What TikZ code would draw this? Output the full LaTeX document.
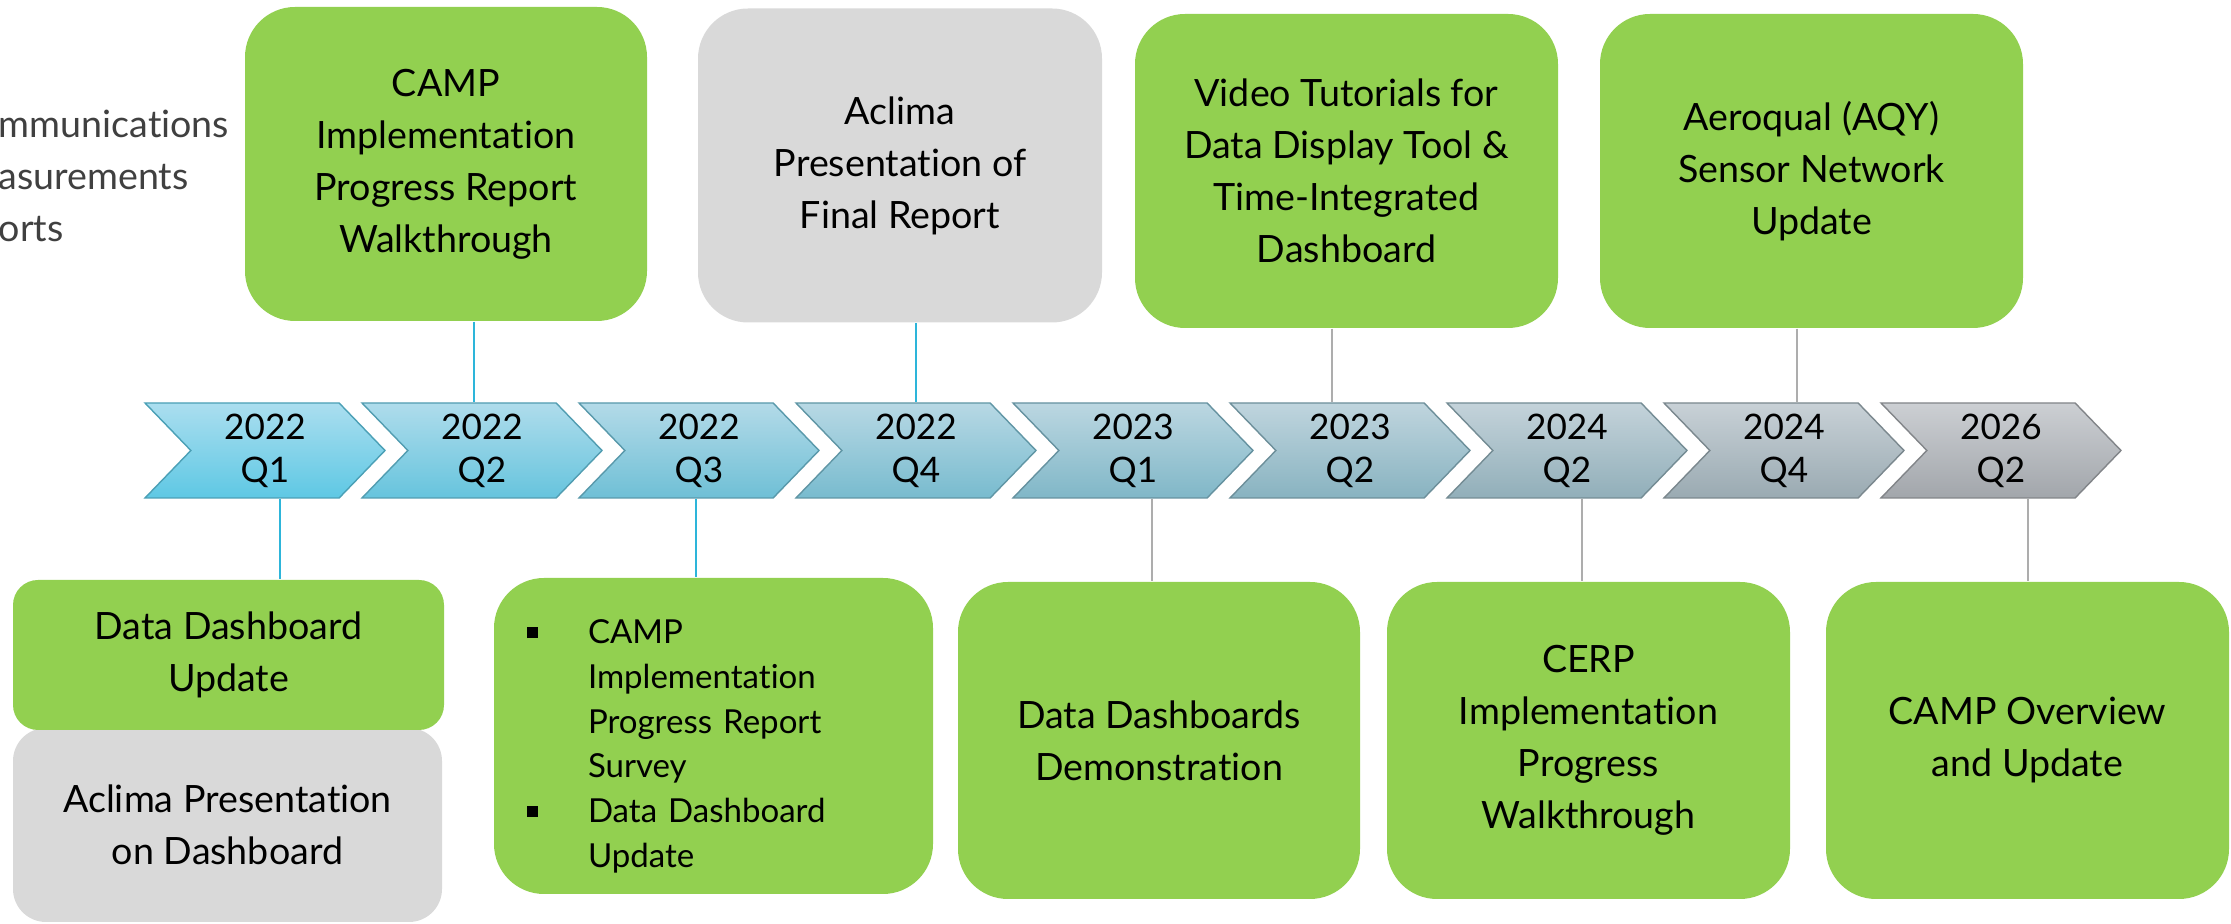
\documentclass[tikz,border=0pt]{standalone}
\usepackage{fontspec}
\setmainfont{Lato}[Ligatures=NoCommon]
\usepackage{enumitem}
\usetikzlibrary{positioning,shapes.symbols}

\definecolor{boxgreen}{HTML}{92D050}
\definecolor{boxgrey}{HTML}{D9D9D9}
\definecolor{linkcyan}{HTML}{2DB5DA}
\definecolor{linkgrey}{HTML}{ADADAD}
\definecolor{sidegrey}{HTML}{404040}
\definecolor{chevtopA}{HTML}{ABDEEF}
\definecolor{chevtopB}{HTML}{CCCFD3}
\definecolor{chevbotA}{HTML}{5EC8E4}
\definecolor{chevbotB}{HTML}{A2A6AB}

\newcommand{\boxfont}{\fontsize{10.7}{14.8}\selectfont}
\newcommand{\chevfont}{\fontsize{10}{12.2}\selectfont}
\newcommand{\listfont}{\fontsize{9.4}{12.7}\selectfont}
\newcommand{\sqbullet}{\rule[0.35ex]{1.1mm}{1.1mm}}

\begin{document}
\begin{tikzpicture}[x=0.1mm, y=-0.1mm, node distance=21.7mm,
    evbox/.style={rounded corners=5mm, inner sep=0pt, align=center, font=\boxfont, minimum height=31.4mm},
    greenbox/.style={evbox, fill=boxgreen},
    greybox/.style={evbox, fill=boxgrey},
    chev/.style={signal, signal from=west, signal to=east, signal pointer angle=92,
        minimum width=24mm, minimum height=9.5mm, inner sep=0pt, align=center, font=\chevfont,
        top color=chevtopB!#1!chevtopA, bottom color=chevbotB!#1!chevbotA,
        draw=chevbotB!#1!chevbotA!80!black, line width=0.4pt},
    cyanlink/.style={draw=linkcyan, line width=0.7pt},
    greylink/.style={draw=linkgrey, line width=0.7pt}]
    \useasboundingbox (0,0) rectangle (2231,924);

    % cut-off text on the left
    \node[anchor=west, align=left, inner sep=0pt, text=sidegrey, font=\boxfont] (side) at (-2,176) {mmunications\\asurements\\orts};

    % timeline
    \node[chev=0] (c1) at (265,450.5) {2022\\Q1};
    \node[chev=12] (c2) [right of=c1] {2022\\Q2};
    \node[chev=25] (c3) [right of=c2] {2022\\Q3};
    \node[chev=38] (c4) [right of=c3] {2022\\Q4};
    \node[chev=50] (c5) [right of=c4] {2023\\Q1};
    \node[chev=62] (c6) [right of=c5] {2023\\Q2};
    \node[chev=75] (c7) [right of=c6] {2024\\Q2};
    \node[chev=88] (c8) [right of=c7] {2024\\Q4};
    \node[chev=100] (c9) [right of=c8] {2026\\Q2};

    % top events
    \node[greenbox, minimum width=40.2mm] (t1) at (446,164) {CAMP\\Implementation\\Progress Report\\Walkthrough};
    \node[greybox, minimum width=40.4mm] (t2) at (900,165.5) {Aclima\\Presentation of\\Final Report};
    \node[greenbox, minimum width=42.3mm] (t3) at (1346.5,171) {Video Tutorials for\\Data Display Tool \&\\Time-Integrated\\Dashboard};
    \node[greenbox, minimum width=42.3mm] (t4) at (1811.5,171) {Aeroqual (AQY)\\Sensor Network\\Update};

    % bottom events
    \node[greybox, rounded corners=3.3mm, minimum width=42.9mm, minimum height=19.4mm] (b1x) at (227.5,825) {Aclima Presentation\\on Dashboard};
    \node[greenbox, rounded corners=2.5mm, minimum width=43.1mm, minimum height=15mm] (b1) at (228.5,655) {Data Dashboard\\Update};
    \node[greenbox, minimum height=31.6mm, inner xsep=3.3mm, text width=37.3mm, align=left, font=\listfont] (b2) at (713.5,736) {%
        \begin{itemize}[nosep, label=\sqbullet, leftmargin=6.1mm, labelwidth=1.2mm, labelsep=4.9mm, align=left]
        \item CAMP\\Implementation\\Progress Report\\Survey
        \item Data Dashboard\\Update
        \end{itemize}};
    \node[greenbox, minimum width=40.2mm, minimum height=31.7mm] (b3) at (1159,740.5) {Data Dashboards\\Demonstration};
    \node[greenbox, minimum width=40.3mm, minimum height=31.7mm] (b4) at (1588.5,740.5) {CERP\\Implementation\\Progress\\Walkthrough};
    \node[greenbox, minimum width=40.3mm, minimum height=31.7mm] (b5) at (2027.5,740.5) {CAMP Overview\\and Update};

    % connector positions
    \coordinate (k1) at (280,0);
    \coordinate (k2) at (474,0);
    \coordinate (k3) at (696,0);
    \coordinate (k4) at (916,0);
    \coordinate (k5) at (1152,0);
    \coordinate (k6) at (1332,0);
    \coordinate (k7) at (1582,0);
    \coordinate (k8) at (1797,0);
    \coordinate (k9) at (2028,0);

    \draw[cyanlink] (c1.south -| k1) -- (b1.north -| k1);
    \draw[cyanlink] (t1.south -| k2) -- (c2.north -| k2);
    \draw[cyanlink] (c3.south -| k3) -- (b2.north -| k3);
    \draw[cyanlink] (t2.south -| k4) -- (c4.north -| k4);
    \draw[greylink] (c5.south -| k5) -- (b3.north -| k5);
    \draw[greylink] (t3.south -| k6) -- (c6.north -| k6);
    \draw[greylink] (c7.south -| k7) -- (b4.north -| k7);
    \draw[greylink] (t4.south -| k8) -- (c8.north -| k8);
    \draw[greylink] (c9.south -| k9) -- (b5.north -| k9);
\end{tikzpicture}
\end{document}
